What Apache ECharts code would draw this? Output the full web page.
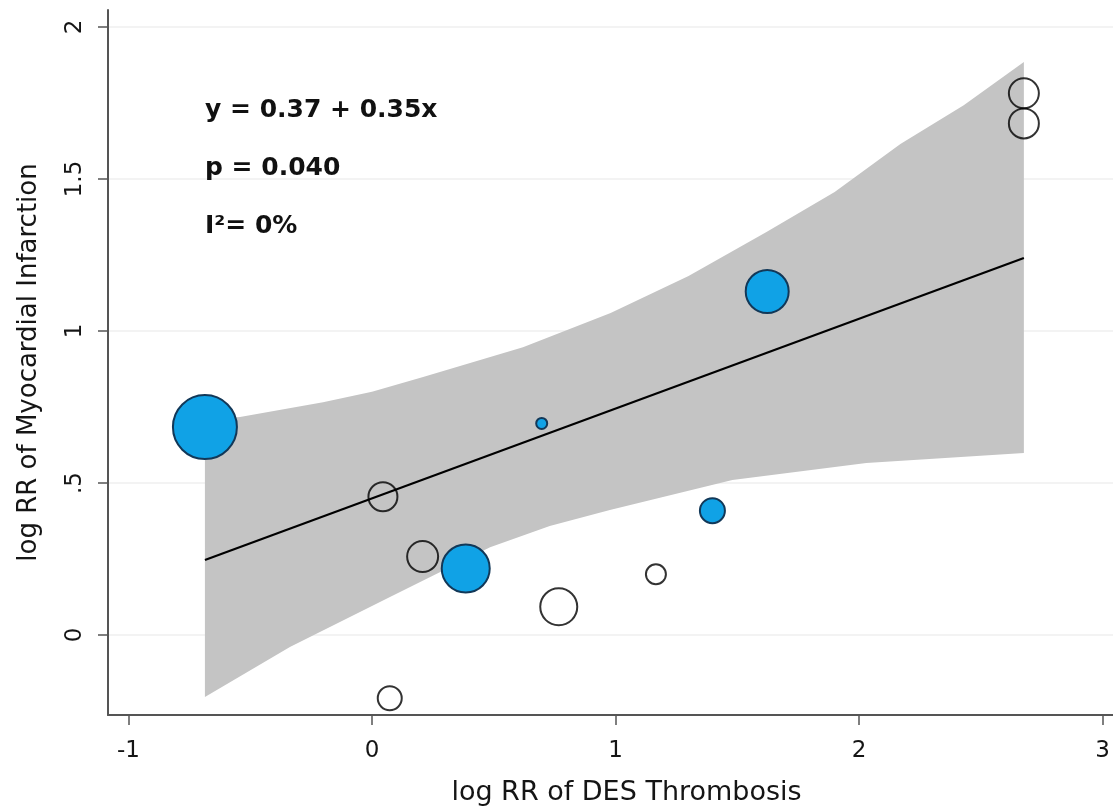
<!DOCTYPE html>
<html>
<head>
<meta charset="utf-8">
<script src="https://cdn.jsdelivr.net/npm/echarts@6.0.0/dist/echarts.min.js"></script>
<style>
  html, body { margin: 0; padding: 0; background: #fff; }
  #main { width: 1113px; height: 809px; }
</style>
</head>
<body>
<div id="main"></div>
<script>
// studies with filled (blue) markers
const blueX = [-0.686, 0.697, 1.623, 1.398, 0.385];
const blueY = [0.684, 0.696, 1.13, 0.409, 0.219];
const blueW = [64, 11, 43, 25, 48];
// studies with hollow markers
const openX = [0.045, 0.208, 0.767, 1.166, 0.073, 2.677, 2.677];
const openY = [0.455, 0.258, 0.093, 0.2, -0.208, 1.782, 1.683];
const openW = [29, 31, 37, 20, 24, 30, 30];
// fitted line end points
const fitX = [-0.686, 2.677];
const fitY = [0.247, 1.24];
// 95% band
const upperX = [-0.686, -0.542, -0.201, 0, 0.21, 0.62, 0.98, 1.30, 1.62, 1.90, 2.17, 2.43, 2.677];
const upperY = [0.707, 0.717, 0.766, 0.80, 0.849, 0.947, 1.059, 1.181, 1.326, 1.457, 1.615, 1.743, 1.885];
const lowerX = [-0.686, -0.337, 0.074, 0.485, 0.73, 0.977, 1.48, 2.03, 2.677];
const lowerY = [-0.204, -0.039, 0.125, 0.289, 0.359, 0.411, 0.51, 0.566, 0.599];

const xTicks = [-1, 0, 1, 2, 3];
const yTicks = [0, 0.5, 1, 1.5, 2];
const notes = ['y = 0.37 + 0.35x', 'p = 0.040', 'I\u00b2= 0%'];

const FONT = 'DejaVu Sans';
const zip = (a, b, c) => a.map((v, i) => c ? [v, b[i], c[i]] : [v, b[i]]);

const bandPts = zip(upperX, upperY).concat(zip(lowerX, lowerY).reverse());

const chart = echarts.init(document.getElementById('main'), null, { renderer: 'canvas' });

chart.setOption({
  animation: false,
  backgroundColor: '#fff',
  grid: { left: 108, right: 0, top: 10, bottom: 94, outerBoundsMode: 'none' },
  xAxis: {
    type: 'value',
    min: -1.084,
    max: 3.043,
    name: 'log RR of DES Thrombosis',
    nameLocation: 'middle',
    nameGap: 64,
    nameTextStyle: { fontFamily: FONT, fontSize: 27, color: '#151515', padding: [0, 0, 0, 32] },
    axisLine: { onZero: false, lineStyle: { color: '#555', width: 2 } },
    axisTick: { customValues: xTicks, length: 10, lineStyle: { color: '#555', width: 1.5 } },
    axisLabel: {
      customValues: xTicks,
      margin: 25,
      fontFamily: FONT,
      fontSize: 23,
      color: '#151515'
    },
    splitLine: { show: false }
  },
  yAxis: {
    type: 'value',
    min: -0.263,
    max: 2.056,
    name: 'log RR of Myocardial Infarction',
    nameLocation: 'middle',
    nameGap: 66,
    nameTextStyle: { fontFamily: FONT, fontSize: 26, color: '#151515' },
    axisLine: { show: true, onZero: false, lineStyle: { color: '#555', width: 2 } },
    axisTick: { show: true, customValues: yTicks, length: 10, lineStyle: { color: '#555', width: 1.5 } },
    axisLabel: {
      customValues: yTicks,
      rotate: 90,
      margin: 21,
      fontFamily: FONT,
      fontSize: 23,
      color: '#151515',
      formatter: v => (v === 0.5 ? '.5' : String(v))
    },
    splitLine: { show: true, lineStyle: { color: '#f3f3f3', width: 2 } }
  },
  graphic: notes.map((t, i) => ({
    type: 'text',
    left: 205,
    top: 98 + i * 58,
    z: 10,
    style: { text: t, fontFamily: FONT, fontSize: 25, fontWeight: 'bold', fill: '#111' }
  })),
  series: [
    {
      type: 'custom',
      name: 'band',
      z: 1,
      silent: true,
      data: bandPts,
      encode: { x: 0, y: 1 },
      renderItem: (params, api) => {
        if (params.dataIndex !== 0) return null;
        return {
          type: 'polygon',
          shape: { points: bandPts.map(p => api.coord(p)) },
          style: { fill: '#c4c4c4' }
        };
      }
    },
    {
      type: 'line',
      name: 'fit',
      z: 2,
      data: zip(fitX, fitY),
      symbol: 'none',
      lineStyle: { color: '#000', width: 2.2 }
    },
    {
      type: 'scatter',
      name: 'hollow',
      z: 3,
      data: zip(openX, openY, openW),
      symbolSize: d => d[2],
      itemStyle: { color: 'rgba(0,0,0,0)', borderColor: '#000', borderWidth: 2 }
    },
    {
      type: 'scatter',
      name: 'filled',
      z: 4,
      data: zip(blueX, blueY, blueW),
      symbolSize: d => d[2],
      itemStyle: { color: '#10a2e6', borderColor: '#123858', borderWidth: 2, opacity: 1 }
    }
  ]
});
</script>
</body>
</html>
